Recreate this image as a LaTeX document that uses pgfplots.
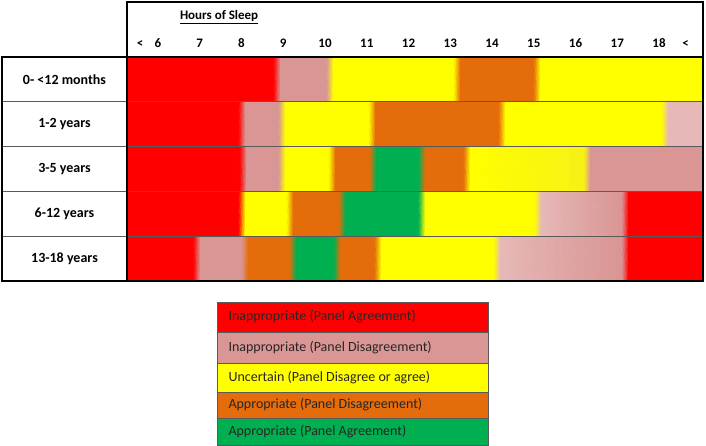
\documentclass[border=0pt]{standalone}
\usepackage{fontspec}
\setmainfont{Carlito}
\usepackage{pgfplots}
\pgfplotsset{compat=1.18}
\definecolor{cR}{HTML}{FF0000}
\definecolor{cP}{HTML}{D99694}
\definecolor{cL}{HTML}{E6B9B8}
\definecolor{cY}{HTML}{FFFF00}
\definecolor{cYd}{HTML}{F8F214}
\definecolor{cO}{HTML}{E46C0A}
\definecolor{cG}{HTML}{00B050}
\definecolor{rule}{HTML}{5A5A5A}

\begin{document}
\begin{tikzpicture}
\useasboundingbox (-127pt,-165pt) rectangle (579pt,281pt);
\begin{axis}[
  scale only axis, width=576pt, height=224pt,
  xmin=5.2575, xmax=19.054, ymin=0, ymax=5,
  axis line style={draw=none},
  ytick=\empty,
  xtick={5.57,6,7,8,9,10,11,12,13,14,15,16,17,18,18.64},
  xticklabels={<,6,7,8,9,10,11,12,13,14,15,16,17,18,<},
  xticklabel pos=upper,
  major tick length=0pt,
  xticklabel style={font=\fontsize{13}{15}\selectfont\bfseries, anchor=base, yshift=9.5pt},
]
% each line: one cell, left colour -> right colour (x in hours, rows 5..1 from top)
\addplot[patch, patch type=rectangle, shader=interp,
  mesh/color input=explicit, point meta=explicit symbolic]
table[row sep=\\, meta=c] {
x y c \\
5.2 4 color=cR \\ 8.77 4 color=cR \\ 8.77 5 color=cR \\ 5.2 5 color=cR \\
8.77 4 color=cR \\ 8.93 4 color=cP \\ 8.93 5 color=cP \\ 8.77 5 color=cR \\
8.93 4 color=cP \\ 10.04 4 color=cP \\ 10.04 5 color=cP \\ 8.93 5 color=cP \\
10.04 4 color=cP \\ 10.20 4 color=cY \\ 10.20 5 color=cY \\ 10.04 5 color=cP \\
10.20 4 color=cY \\ 13.08 4 color=cY \\ 13.08 5 color=cY \\ 10.20 5 color=cY \\
13.08 4 color=cY \\ 13.24 4 color=cO \\ 13.24 5 color=cO \\ 13.08 5 color=cY \\
13.24 4 color=cO \\ 15.00 4 color=cO \\ 15.00 5 color=cO \\ 13.24 5 color=cO \\
15.00 4 color=cO \\ 15.16 4 color=cY \\ 15.16 5 color=cY \\ 15.00 5 color=cO \\
15.16 4 color=cY \\ 19.1 4 color=cY \\ 19.1 5 color=cY \\ 15.16 5 color=cY \\
5.2 3 color=cR \\ 7.93 3 color=cR \\ 7.93 4 color=cR \\ 5.2 4 color=cR \\
7.93 3 color=cR \\ 8.09 3 color=cP \\ 8.09 4 color=cP \\ 7.93 4 color=cR \\
8.09 3 color=cP \\ 8.89 3 color=cP \\ 8.89 4 color=cP \\ 8.09 4 color=cP \\
8.89 3 color=cP \\ 9.05 3 color=cY \\ 9.05 4 color=cY \\ 8.89 4 color=cP \\
9.05 3 color=cY \\ 11.05 3 color=cY \\ 11.05 4 color=cY \\ 9.05 4 color=cY \\
11.05 3 color=cY \\ 11.21 3 color=cO \\ 11.21 4 color=cO \\ 11.05 4 color=cY \\
11.21 3 color=cO \\ 14.16 3 color=cO \\ 14.16 4 color=cO \\ 11.21 4 color=cO \\
14.16 3 color=cO \\ 14.32 3 color=cY \\ 14.32 4 color=cY \\ 14.16 4 color=cO \\
14.32 3 color=cY \\ 18.06 3 color=cY \\ 18.06 4 color=cY \\ 14.32 4 color=cY \\
18.06 3 color=cY \\ 18.22 3 color=cL \\ 18.22 4 color=cL \\ 18.06 4 color=cY \\
18.22 3 color=cL \\ 19.1 3 color=cL \\ 19.1 4 color=cL \\ 18.22 4 color=cL \\
5.2 2 color=cR \\ 7.96 2 color=cR \\ 7.96 3 color=cR \\ 5.2 3 color=cR \\
7.96 2 color=cR \\ 8.12 2 color=cP \\ 8.12 3 color=cP \\ 7.96 3 color=cR \\
8.12 2 color=cP \\ 8.89 2 color=cP \\ 8.89 3 color=cP \\ 8.12 3 color=cP \\
8.89 2 color=cP \\ 9.05 2 color=cY \\ 9.05 3 color=cY \\ 8.89 3 color=cP \\
9.05 2 color=cY \\ 10.09 2 color=cY \\ 10.09 3 color=cY \\ 9.05 3 color=cY \\
10.09 2 color=cY \\ 10.25 2 color=cO \\ 10.25 3 color=cO \\ 10.09 3 color=cY \\
10.25 2 color=cO \\ 11.07 2 color=cO \\ 11.07 3 color=cO \\ 10.25 3 color=cO \\
11.07 2 color=cO \\ 11.23 2 color=cG \\ 11.23 3 color=cG \\ 11.07 3 color=cO \\
11.23 2 color=cG \\ 12.24 2 color=cG \\ 12.24 3 color=cG \\ 11.23 3 color=cG \\
12.24 2 color=cG \\ 12.40 2 color=cO \\ 12.40 3 color=cO \\ 12.24 3 color=cG \\
12.40 2 color=cO \\ 13.32 2 color=cO \\ 13.32 3 color=cO \\ 12.40 3 color=cO \\
13.32 2 color=cO \\ 13.48 2 color=cY \\ 13.48 3 color=cY \\ 13.32 3 color=cO \\
13.48 2 color=cY \\ 16.20 2 color=cYd \\ 16.20 3 color=cYd \\ 13.48 3 color=cY \\
16.20 2 color=cYd \\ 16.36 2 color=cP \\ 16.36 3 color=cP \\ 16.20 3 color=cYd \\
16.36 2 color=cP \\ 19.1 2 color=cP \\ 19.1 3 color=cP \\ 16.36 3 color=cP \\
5.2 1 color=cR \\ 7.93 1 color=cR \\ 7.93 2 color=cR \\ 5.2 2 color=cR \\
7.93 1 color=cR \\ 8.09 1 color=cY \\ 8.09 2 color=cY \\ 7.93 2 color=cR \\
8.09 1 color=cY \\ 9.08 1 color=cY \\ 9.08 2 color=cY \\ 8.09 2 color=cY \\
9.08 1 color=cY \\ 9.24 1 color=cO \\ 9.24 2 color=cO \\ 9.08 2 color=cY \\
9.24 1 color=cO \\ 10.33 1 color=cO \\ 10.33 2 color=cO \\ 9.24 2 color=cO \\
10.33 1 color=cO \\ 10.49 1 color=cG \\ 10.49 2 color=cG \\ 10.33 2 color=cO \\
10.49 1 color=cG \\ 12.24 1 color=cG \\ 12.24 2 color=cG \\ 10.49 2 color=cG \\
12.24 1 color=cG \\ 12.40 1 color=cY \\ 12.40 2 color=cY \\ 12.24 2 color=cG \\
12.40 1 color=cY \\ 15.02 1 color=cY \\ 15.02 2 color=cY \\ 12.40 2 color=cY \\
15.02 1 color=cY \\ 15.18 1 color=cL \\ 15.18 2 color=cL \\ 15.02 2 color=cY \\
15.18 1 color=cL \\ 17.11 1 color=cP \\ 17.11 2 color=cP \\ 15.18 2 color=cL \\
17.11 1 color=cP \\ 17.27 1 color=cR \\ 17.27 2 color=cR \\ 17.11 2 color=cP \\
17.27 1 color=cR \\ 19.1 1 color=cR \\ 19.1 2 color=cR \\ 17.27 2 color=cR \\
5.2 0 color=cR \\ 6.85 0 color=cR \\ 6.85 1 color=cR \\ 5.2 1 color=cR \\
6.85 0 color=cR \\ 7.01 0 color=cP \\ 7.01 1 color=cP \\ 6.85 1 color=cR \\
7.01 0 color=cP \\ 8.00 0 color=cP \\ 8.00 1 color=cP \\ 7.01 1 color=cP \\
8.00 0 color=cP \\ 8.16 0 color=cO \\ 8.16 1 color=cO \\ 8.00 1 color=cP \\
8.16 0 color=cO \\ 9.15 0 color=cO \\ 9.15 1 color=cO \\ 8.16 1 color=cO \\
9.15 0 color=cO \\ 9.31 0 color=cG \\ 9.31 1 color=cG \\ 9.15 1 color=cO \\
9.31 0 color=cG \\ 10.21 0 color=cG \\ 10.21 1 color=cG \\ 9.31 1 color=cG \\
10.21 0 color=cG \\ 10.37 0 color=cO \\ 10.37 1 color=cO \\ 10.21 1 color=cG \\
10.37 0 color=cO \\ 11.19 0 color=cO \\ 11.19 1 color=cO \\ 10.37 1 color=cO \\
11.19 0 color=cO \\ 11.35 0 color=cY \\ 11.35 1 color=cY \\ 11.19 1 color=cO \\
11.35 0 color=cY \\ 14.04 0 color=cY \\ 14.04 1 color=cY \\ 11.35 1 color=cY \\
14.04 0 color=cY \\ 14.20 0 color=cL \\ 14.20 1 color=cL \\ 14.04 1 color=cY \\
14.20 0 color=cL \\ 17.11 0 color=cP \\ 17.11 1 color=cP \\ 14.20 1 color=cL \\
17.11 0 color=cP \\ 17.27 0 color=cR \\ 17.27 1 color=cR \\ 17.11 1 color=cP \\
17.27 0 color=cR \\ 19.1 0 color=cR \\ 19.1 1 color=cR \\ 17.27 1 color=cR \\
};
\end{axis}

% table rules
\foreach \yy in {44.8,89.6,134.4,179.2}
  \draw[rule, line width=0.8pt] (-125pt,\yy pt) -- (576pt,\yy pt);
\draw[line width=1.6pt] (0pt,224pt) -- (0pt,279pt) -- (576pt,279pt) -- (576pt,0pt)
  -- (-125pt,0pt) -- (-125pt,224pt) -- (576pt,224pt);
\draw[line width=1.6pt] (0pt,0pt) -- (0pt,224pt);

\node[anchor=west, font=\fontsize{13}{15}\selectfont\bfseries] at (49.5pt,264pt) {\underline{Hours of Sleep}};

\begin{scope}[every node/.style={font=\fontsize{14}{16}\selectfont\bfseries}]
\node at (-62.5pt,201.6pt) {0- <12 months};
\node at (-62.5pt,156.8pt) {1-2 years};
\node at (-62.5pt,112pt) {3-5 years};
\node at (-62.5pt,67.2pt) {6-12 years};
\node at (-62.5pt,22.4pt) {13-18 years};
\end{scope}

% key
\begin{scope}[every node/.style={font=\fontsize{14}{16}\selectfont, anchor=west, text=black!85}]
\draw[fill=cR, draw=rule, line width=0.6pt] (90pt,-21pt) rectangle (361pt,-51pt);
\draw[fill=cP, draw=rule, line width=0.6pt] (90pt,-51pt) rectangle (361pt,-82pt);
\draw[fill=cY, draw=rule, line width=0.6pt] (90pt,-82pt) rectangle (361pt,-111pt);
\draw[fill=cO, draw=rule, line width=0.6pt] (90pt,-111pt) rectangle (361pt,-137pt);
\draw[fill=cG, draw=rule, line width=0.6pt] (90pt,-137pt) rectangle (361pt,-164pt);
\node at (98pt,-36pt) {Inappropriate (Panel Agreement)};
\node at (98pt,-66.5pt) {Inappropriate (Panel Disagreement)};
\node at (98pt,-96.5pt) {Uncertain (Panel Disagree or agree)};
\node at (98pt,-124pt) {Appropriate (Panel Disagreement)};
\node at (98pt,-150.5pt) {Appropriate (Panel Agreement)};
\end{scope}
\end{tikzpicture}
\end{document}
